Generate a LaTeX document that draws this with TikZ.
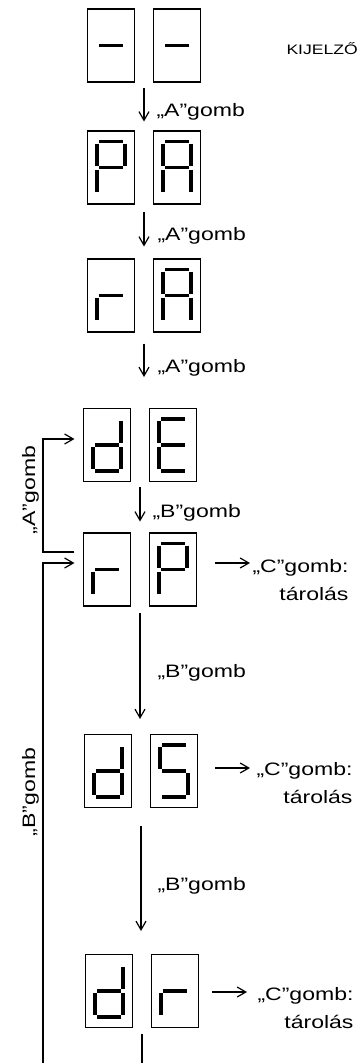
\documentclass[tikz,border=0pt]{standalone}
\usepackage{fontspec}
\setmainfont{Liberation Sans}
\newfontfamily\gombfont[FakeStretch=1.28]{Liberation Sans}
\usetikzlibrary{arrows.meta}

\tikzset{every picture/.style={line width=0.75pt}}
\tikzset{
	cella/.style={draw, line width=1.1pt, minimum width=35.25pt, minimum height=54.75pt, inner sep=0pt},
	sor/.style={minimum width=84.75pt, minimum height=54.75pt, inner sep=0pt},
	szeg/.style={line width=2.6pt},
	nyil/.style={line width=0.9pt, -{Straight Barb[length=6.5pt,width=7.5pt]}},
	felirat/.style={font=\gombfont\fontsize{13.5}{21}\selectfont, inner sep=0pt, align=right}
}

% segments a..g of one digit round (x,y)
\newcommand\szegmensek[3]{%
	\begin{scope}[shift={(#1,#2)}]
		\coordinate (sa1) at (-12,-26); \coordinate (sa2) at (12,-26);
		\coordinate (sb1) at (14,-24);  \coordinate (sb2) at (14,-2);
		\coordinate (sc1) at (14,2);    \coordinate (sc2) at (14,24);
		\coordinate (sd1) at (-12,26);  \coordinate (sd2) at (12,26);
		\coordinate (se1) at (-14,2);   \coordinate (se2) at (-14,24);
		\coordinate (sf1) at (-14,-24); \coordinate (sf2) at (-14,-2);
		\coordinate (sg1) at (-12,0);   \coordinate (sg2) at (12,0);
		\foreach \s in {#3} {\draw[szeg] (s\s1) -- (s\s2);}
	\end{scope}}

% two digit display #1 centred at (#2,#3)
\newcommand\kijelzo[5]{%
	\node[sor] (#1) at (#2,#3) {};
	\node[cella] (#1l) at (#2-33,#3) {};
	\node[cella] (#1r) at (#2+33,#3) {};
	\szegmensek{#2-33}{#3}{#4}
	\szegmensek{#2+33}{#3}{#5}}

\begin{document}
\begin{tikzpicture}[x=0.75pt,y=0.75pt,yscale=-1,xscale=1]
	\useasboundingbox (0,0) rectangle (361,1063);

	%Displays
	\kijelzo{r1}{144}{45.5}{g}{g}
	\kijelzo{r2}{144}{167.5}{a,b,e,f,g}{a,b,c,e,f,g}
	\kijelzo{r3}{144}{295.5}{e,g}{a,b,c,e,f,g}
	\kijelzo{r4}{140}{445}{b,c,d,e,g}{a,d,e,f,g}
	\kijelzo{r5}{140}{569.5}{e,g}{a,b,e,f,g}
	\kijelzo{r6}{141}{771}{b,c,d,e,g}{a,c,d,f,g}
	\kijelzo{r7}{142}{991}{b,c,d,e,g}{e,g}

	% Text Node
	\node[felirat, font=\gombfont\fontsize{10.3}{13}\selectfont, anchor=base west] (cim) at (286,55) {KIJELZŐ};

	%Straight Lines
	\draw[nyil, shorten <=4.5pt, shorten >=6.75pt] (r1.south) -- (r1.south |- r2.north);
	\draw[nyil, shorten <=5.25pt, shorten >=9pt] (r2.south) -- (r2.south |- r3.north);
	\draw[nyil, shorten <=8.25pt, shorten >=23.25pt] (r3.south) -- (r3.south |- r4.north);
	\draw[nyil, shorten <=3.75pt, shorten >=8.25pt] (r4.south) -- (r4.south |- r5.north);
	\draw[nyil, shorten <=4.5pt, shorten >=11.25pt] (r5.south) -- (r5.south |- r6.north);
	\draw[nyil, shorten <=13.5pt, shorten >=17.25pt] (r6.south) -- (r6.south |- r7.north);

	% Text Node
	\node[felirat, anchor=base west] (l1) at (156,117) {„A”gomb};
	\node[felirat, anchor=base west] (l2) at (157,240) {„A”gomb};
	\node[felirat, anchor=base west] (l3) at (157,372) {„A”gomb};
	\node[felirat, anchor=base west] (l4) at (152,517) {„B”gomb};
	\node[felirat, anchor=base west] (l5) at (157,677) {„B”gomb};
	\node[felirat, anchor=base west] (l6) at (157,890) {„B”gomb};

	%Loops back
	\coordinate (aki) at (43,552);
	\coordinate (abe) at (43,439);
	\coordinate (bbe) at (43,563);
	\coordinate (alja) at (43,1063);
	\draw[nyil, shorten <=6.4pt, shorten >=6.4pt] (aki -| r5.west) -- (aki) -- (abe) -- (abe -| r4.west);
	\draw[nyil, shorten >=6.4pt] (alja) -- (bbe) -- (bbe -| r5.west);
	\draw[line width=0.9pt, shorten <=4.5pt] (r7.south) -- (r7.south |- alja);
	\node[felirat, rotate=90, anchor=base] (la) at (35,490) {„A”gomb};
	\node[felirat, rotate=90, anchor=base] (lb) at (35,792) {„B”gomb};

	%C button
	\coordinate (c5v) at (250,563);
	\coordinate (c6v) at (250,768);
	\coordinate (c7v) at (247,992);
	\draw[nyil, shorten <=13.5pt] (r5.east |- c5v) -- (c5v);
	\draw[nyil, shorten <=13.1pt] (r6.east |- c6v) -- (c6v);
	\draw[nyil, shorten <=10pt] (r7.east |- c7v) -- (c7v);
	\node[felirat, anchor=base west] (c5) at (252,600) {„C”gomb:\\tárolás};
	\node[felirat, anchor=base west] (c6) at (256,803) {„C”gomb:\\tárolás};
	\node[felirat, anchor=base west] (c7) at (257,1028) {„C”gomb:\\tárolás};

\end{tikzpicture}
\end{document}
